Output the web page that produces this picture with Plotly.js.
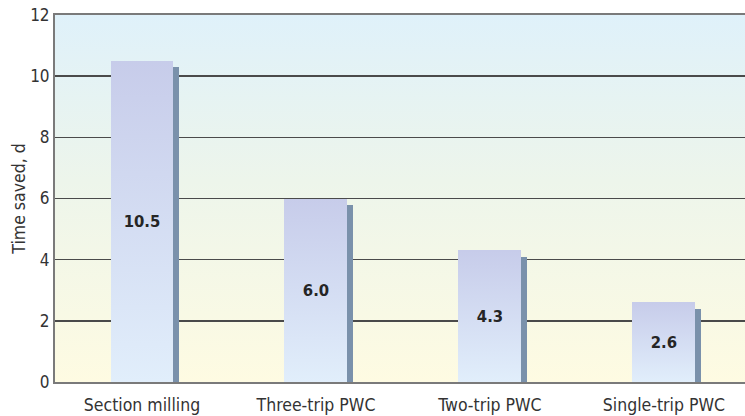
<!DOCTYPE html>
<html><head><meta charset="utf-8">
<script src="https://cdn.plot.ly/plotly-3.0.1.min.js"></script>
<style>html,body{margin:0;padding:0;background:#fff}#chart{width:745px;height:416px}</style>
</head><body><div id="chart"></div>
<script>
const categories = ["Section milling", "Three-trip PWC", "Two-trip PWC", "Single-trip PWC"];
const timeSaved = [10.5, 6.0, 4.3, 2.6];
const valueLabels = ["10.5", "6.0", "4.3", "2.6"];
const yTicks = [0, 2, 4, 6, 8, 10, 12];

const barWidth = 0.362;
const shadowShift = 0.03;
const shadowDrop = 0.2;
const font = "'DejaVu Sans Condensed','Liberation Sans Narrow',Arial,sans-serif";

const shadow = {
  type: 'bar', x: categories, y: timeSaved.map(v => v - shadowDrop),
  width: barWidth, offset: -barWidth / 2 + shadowShift,
  marker: {color: '#7A91AB', line: {width: 0}}, hoverinfo: 'skip', showlegend: false
};
const bars = {
  type: 'bar', x: categories, y: timeSaved,
  width: barWidth, offset: -barWidth / 2,
  text: valueLabels, textposition: 'inside', insidetextanchor: 'middle', textangle: 0,
  textfont: {family: font, size: 16.5, color: '#252525', weight: 'bold'},
  marker: {color: '#D0D6EE', line: {width: 0}}, showlegend: false
};

const layout = {
  width: 745, height: 416,
  margin: {l: 55, r: 0, t: 15, b: 34},
  paper_bgcolor: '#ffffff', plot_bgcolor: '#EEF5EA',
  barmode: 'overlay', bargap: 0,
  font: {family: font, size: 16, color: '#333'},
  xaxis: {
    type: 'category', range: [-0.5, 3.466], showgrid: false, zeroline: false,
    showline: true, linecolor: '#7a7a7a', linewidth: 2, mirror: true, ticks: '',
    ticklabelstandoff: 6,
    tickfont: {family: font, size: 17.5, color: '#333'}
  },
  yaxis: {
    range: [0, 12], tickvals: yTicks, ticktext: yTicks.map(String),
    showgrid: true, gridcolor: '#4a4a4a', gridwidth: 1.5, zeroline: false,
    showline: true, linecolor: '#7a7a7a', linewidth: 2, ticks: '',
    ticklabelstandoff: 0,
    tickfont: {family: font, size: 17, color: '#333'},
    title: {text: 'Time saved, d', font: {family: font, size: 17.5, color: '#333'}, standoff: 0}
  }
};

Plotly.newPlot('chart', [shadow, bars], layout, {staticPlot: true}).then(gd => {
  const svgNS = 'http://www.w3.org/2000/svg';
  const svg = gd.querySelector('svg.main-svg');
  let defs = svg.querySelector('defs');
  if (!defs) { defs = document.createElementNS(svgNS, 'defs'); svg.insertBefore(defs, svg.firstChild); }
  function grad(id, stops) {
    const g = document.createElementNS(svgNS, 'linearGradient');
    g.setAttribute('id', id); g.setAttribute('x1', '0'); g.setAttribute('y1', '0');
    g.setAttribute('x2', '0'); g.setAttribute('y2', '1');
    stops.forEach(([o, c]) => {
      const s = document.createElementNS(svgNS, 'stop');
      s.setAttribute('offset', o); s.setAttribute('stop-color', c);
      g.appendChild(s);
    });
    defs.appendChild(g);
  }
  grad('bgGrad', [['0', '#DFF1FA'], ['0.45', '#EDF5EB'], ['1', '#FEFBE2']]);
  grad('barGrad', [['0', '#C7CCEA'], ['1', '#E1EEFB']]);
  const bg = svg.querySelector('rect.bg');
  if (bg) bg.style.fill = 'url(#bgGrad)';
  const traces = gd.querySelectorAll('.barlayer .trace');
  if (traces[1]) traces[1].querySelectorAll('path').forEach(p => { p.style.fill = 'url(#barGrad)'; });
});
</script>
</body></html>
